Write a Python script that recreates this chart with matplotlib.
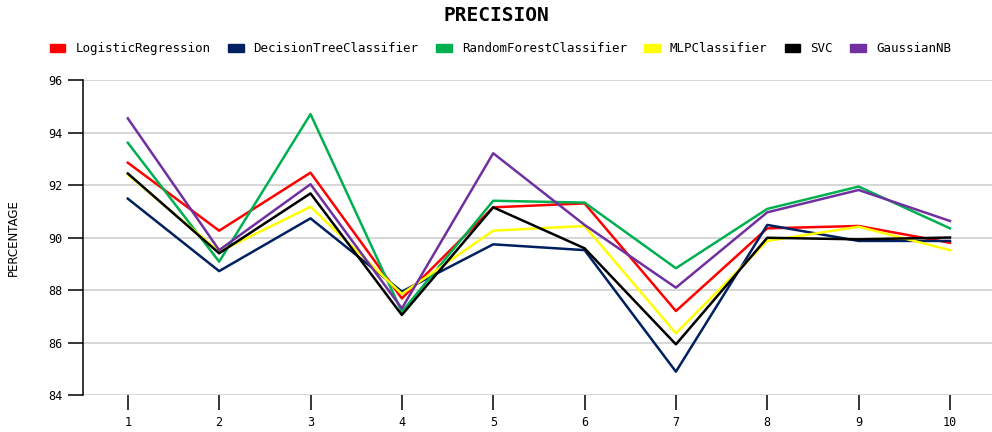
import matplotlib
matplotlib.use("Agg")
import matplotlib.pyplot as plt
from matplotlib.patches import Patch

# fold numbers
folds = [1, 2, 3, 4, 5, 6, 7, 8, 9, 10]

# precision per model
logistic = [92.85, 90.26, 92.47, 87.68, 91.15, 91.30, 87.20, 90.35, 90.44, 89.80]
tree = [91.48, 88.72, 90.73, 87.94, 89.74, 89.52, 84.89, 90.48, 89.87, 89.87]
forest = [93.61, 89.08, 94.70, 87.17, 91.40, 91.33, 88.83, 91.09, 91.94, 90.35]
mlp = [92.40, 89.46, 91.17, 87.85, 90.26, 90.44, 86.35, 89.87, 90.41, 89.52]
svc = [92.44, 89.40, 91.68, 87.05, 91.15, 89.59, 85.93, 89.99, 89.93, 90.00]
gauss = [94.54, 89.52, 92.03, 87.30, 93.21, 90.48, 88.09, 90.96, 91.81, 90.63]

names = ["LogisticRegression", "DecisionTreeClassifier", "RandomForestClassifier",
         "MLPClassifier", "SVC", "GaussianNB"]
colors = ["#ff0000", "#002060", "#00b050", "#ffff00", "#000000", "#7030a0"]
series = [logistic, tree, forest, mlp, svc, gauss]

mono = "DejaVu Sans Mono"

fig = plt.figure(figsize=(9.92, 4.32), dpi=100)
ax = fig.add_axes([0.0837, 0.0856, 0.9163, 0.7292])

for vals, c in zip(series, colors):
    ax.plot(folds, vals, color=c, linewidth=1.8, zorder=3)

ax.set_xlim(0.51, 10.46)
ax.set_ylim(84, 96)
ax.set_yticks([84, 86, 88, 90, 92, 94, 96])
ax.set_xticks(folds)
ax.grid(axis="y", color="#d0d0d0", linewidth=1.2, zorder=0)
ax.set_axisbelow(True)

for s in ["top", "right", "bottom"]:
    ax.spines[s].set_visible(False)
ax.spines["left"].set_color("black")
ax.spines["left"].set_linewidth(1.1)

ax.tick_params(axis="both", length=11, width=1.1, color="black", labelsize=8.5, pad=4)
for lab in ax.get_xticklabels() + ax.get_yticklabels():
    lab.set_fontfamily(mono)

ax.set_ylabel("PERCENTAGE", fontsize=8.5, labelpad=20)

fig.suptitle("PRECISION", x=0.5, y=0.985, fontsize=14, fontweight="bold", fontfamily=mono)

handles = [Patch(facecolor=c, edgecolor=c) for c in colors]
fig.legend(handles, names, loc="center", bbox_to_anchor=(0.5045, 0.8866), ncol=6,
           frameon=False, prop={"family": mono, "size": 9},
           handlelength=1.25, handleheight=0.55, handletextpad=0.8, columnspacing=1.4)

fig.savefig("out.png", dpi=100)
